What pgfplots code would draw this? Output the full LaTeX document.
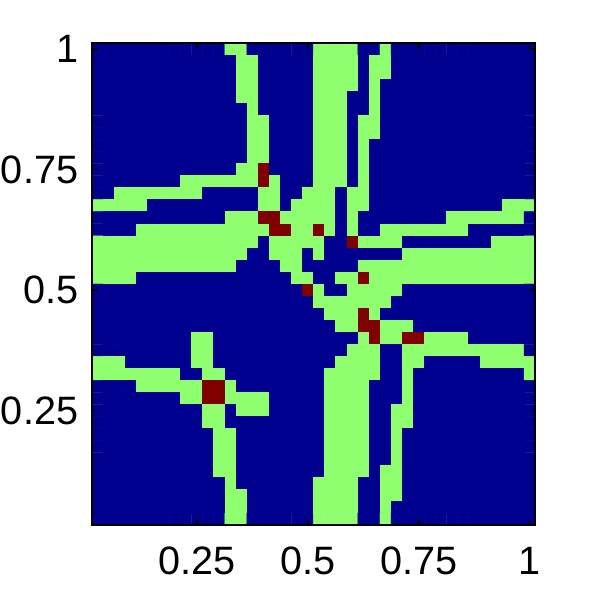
\documentclass[border=0pt]{standalone}
\usepackage{pgfplots}
\pgfplotsset{compat=1.18}
\usepackage{fontspec}
\setmainfont{Liberation Sans}
\begin{document}
\begin{tikzpicture}
\path[use as bounding box] (-91.7pt,-66pt) rectangle (499.3pt,525pt);
\begin{axis}[
  at={(0,0)}, anchor=south west,
  scale only axis, width=443.5pt, height=482pt,
  xmin=0.5, xmax=40.5, ymin=0.5, ymax=40.5,
  xtick={10,20,30,40}, xticklabels={0.25,0.5,0.75,1},
  ytick={10,20,30,40}, yticklabels={0.25,0.5,0.75,1},
  tick align=inside, major tick length=6pt,
  tick style={black, line width=1.5pt},
  axis line style={line width=2pt},
  ticklabel style={font=\fontsize{39.6pt}{44pt}\selectfont},
  xticklabel style={yshift=-18.4pt},
  yticklabel style={xshift=-10.1pt},
  colormap={jetthree}{rgb255(0)=(0,0,143); rgb255(1)=(143,255,112); rgb255(2)=(128,0,0)},
  point meta min=0, point meta max=2,
  axis on top,
]
\addplot[matrix plot*, mesh/cols=40, point meta=explicit] table[row sep=\\, header=false, x index=0, y index=1, meta index=2] {
1 40 0\\2 40 0\\3 40 0\\4 40 0\\5 40 0\\6 40 0\\7 40 0\\8 40 0\\9 40 0\\10 40 0\\11 40 0\\12 40 0\\13 40 1\\14 40 1\\15 40 0\\16 40 0\\17 40 0\\18 40 0\\19 40 0\\20 40 0\\21 40 1\\22 40 1\\23 40 1\\24 40 1\\25 40 0\\26 40 0\\27 40 1\\28 40 0\\29 40 0\\30 40 0\\31 40 0\\32 40 0\\33 40 0\\34 40 0\\35 40 0\\36 40 0\\37 40 0\\38 40 0\\39 40 0\\40 40 0\\
1 39 0\\2 39 0\\3 39 0\\4 39 0\\5 39 0\\6 39 0\\7 39 0\\8 39 0\\9 39 0\\10 39 0\\11 39 0\\12 39 0\\13 39 0\\14 39 1\\15 39 1\\16 39 0\\17 39 0\\18 39 0\\19 39 0\\20 39 0\\21 39 1\\22 39 1\\23 39 1\\24 39 1\\25 39 0\\26 39 1\\27 39 1\\28 39 0\\29 39 0\\30 39 0\\31 39 0\\32 39 0\\33 39 0\\34 39 0\\35 39 0\\36 39 0\\37 39 0\\38 39 0\\39 39 0\\40 39 0\\
1 38 0\\2 38 0\\3 38 0\\4 38 0\\5 38 0\\6 38 0\\7 38 0\\8 38 0\\9 38 0\\10 38 0\\11 38 0\\12 38 0\\13 38 0\\14 38 1\\15 38 1\\16 38 0\\17 38 0\\18 38 0\\19 38 0\\20 38 0\\21 38 1\\22 38 1\\23 38 1\\24 38 1\\25 38 0\\26 38 1\\27 38 1\\28 38 0\\29 38 0\\30 38 0\\31 38 0\\32 38 0\\33 38 0\\34 38 0\\35 38 0\\36 38 0\\37 38 0\\38 38 0\\39 38 0\\40 38 0\\
1 37 0\\2 37 0\\3 37 0\\4 37 0\\5 37 0\\6 37 0\\7 37 0\\8 37 0\\9 37 0\\10 37 0\\11 37 0\\12 37 0\\13 37 0\\14 37 1\\15 37 1\\16 37 0\\17 37 0\\18 37 0\\19 37 0\\20 37 0\\21 37 1\\22 37 1\\23 37 1\\24 37 1\\25 37 0\\26 37 1\\27 37 0\\28 37 0\\29 37 0\\30 37 0\\31 37 0\\32 37 0\\33 37 0\\34 37 0\\35 37 0\\36 37 0\\37 37 0\\38 37 0\\39 37 0\\40 37 0\\
1 36 0\\2 36 0\\3 36 0\\4 36 0\\5 36 0\\6 36 0\\7 36 0\\8 36 0\\9 36 0\\10 36 0\\11 36 0\\12 36 0\\13 36 0\\14 36 1\\15 36 1\\16 36 0\\17 36 0\\18 36 0\\19 36 0\\20 36 0\\21 36 1\\22 36 1\\23 36 1\\24 36 0\\25 36 0\\26 36 1\\27 36 0\\28 36 0\\29 36 0\\30 36 0\\31 36 0\\32 36 0\\33 36 0\\34 36 0\\35 36 0\\36 36 0\\37 36 0\\38 36 0\\39 36 0\\40 36 0\\
1 35 0\\2 35 0\\3 35 0\\4 35 0\\5 35 0\\6 35 0\\7 35 0\\8 35 0\\9 35 0\\10 35 0\\11 35 0\\12 35 0\\13 35 0\\14 35 0\\15 35 1\\16 35 0\\17 35 0\\18 35 0\\19 35 0\\20 35 0\\21 35 1\\22 35 1\\23 35 1\\24 35 0\\25 35 0\\26 35 1\\27 35 0\\28 35 0\\29 35 0\\30 35 0\\31 35 0\\32 35 0\\33 35 0\\34 35 0\\35 35 0\\36 35 0\\37 35 0\\38 35 0\\39 35 0\\40 35 0\\
1 34 0\\2 34 0\\3 34 0\\4 34 0\\5 34 0\\6 34 0\\7 34 0\\8 34 0\\9 34 0\\10 34 0\\11 34 0\\12 34 0\\13 34 0\\14 34 0\\15 34 1\\16 34 1\\17 34 0\\18 34 0\\19 34 0\\20 34 0\\21 34 1\\22 34 1\\23 34 1\\24 34 0\\25 34 1\\26 34 1\\27 34 0\\28 34 0\\29 34 0\\30 34 0\\31 34 0\\32 34 0\\33 34 0\\34 34 0\\35 34 0\\36 34 0\\37 34 0\\38 34 0\\39 34 0\\40 34 0\\
1 33 0\\2 33 0\\3 33 0\\4 33 0\\5 33 0\\6 33 0\\7 33 0\\8 33 0\\9 33 0\\10 33 0\\11 33 0\\12 33 0\\13 33 0\\14 33 0\\15 33 1\\16 33 1\\17 33 0\\18 33 0\\19 33 0\\20 33 0\\21 33 1\\22 33 1\\23 33 1\\24 33 0\\25 33 1\\26 33 1\\27 33 0\\28 33 0\\29 33 0\\30 33 0\\31 33 0\\32 33 0\\33 33 0\\34 33 0\\35 33 0\\36 33 0\\37 33 0\\38 33 0\\39 33 0\\40 33 0\\
1 32 0\\2 32 0\\3 32 0\\4 32 0\\5 32 0\\6 32 0\\7 32 0\\8 32 0\\9 32 0\\10 32 0\\11 32 0\\12 32 0\\13 32 0\\14 32 0\\15 32 1\\16 32 1\\17 32 0\\18 32 0\\19 32 0\\20 32 0\\21 32 1\\22 32 1\\23 32 1\\24 32 0\\25 32 1\\26 32 0\\27 32 0\\28 32 0\\29 32 0\\30 32 0\\31 32 0\\32 32 0\\33 32 0\\34 32 0\\35 32 0\\36 32 0\\37 32 0\\38 32 0\\39 32 0\\40 32 0\\
1 31 0\\2 31 0\\3 31 0\\4 31 0\\5 31 0\\6 31 0\\7 31 0\\8 31 0\\9 31 0\\10 31 0\\11 31 0\\12 31 0\\13 31 0\\14 31 0\\15 31 1\\16 31 1\\17 31 0\\18 31 0\\19 31 0\\20 31 0\\21 31 1\\22 31 1\\23 31 1\\24 31 0\\25 31 1\\26 31 0\\27 31 0\\28 31 0\\29 31 0\\30 31 0\\31 31 0\\32 31 0\\33 31 0\\34 31 0\\35 31 0\\36 31 0\\37 31 0\\38 31 0\\39 31 0\\40 31 0\\
1 30 0\\2 30 0\\3 30 0\\4 30 0\\5 30 0\\6 30 0\\7 30 0\\8 30 0\\9 30 0\\10 30 0\\11 30 0\\12 30 0\\13 30 0\\14 30 1\\15 30 1\\16 30 2\\17 30 0\\18 30 0\\19 30 0\\20 30 0\\21 30 1\\22 30 1\\23 30 1\\24 30 0\\25 30 1\\26 30 0\\27 30 0\\28 30 0\\29 30 0\\30 30 0\\31 30 0\\32 30 0\\33 30 0\\34 30 0\\35 30 0\\36 30 0\\37 30 0\\38 30 0\\39 30 0\\40 30 0\\
1 29 0\\2 29 0\\3 29 0\\4 29 0\\5 29 0\\6 29 0\\7 29 0\\8 29 0\\9 29 1\\10 29 1\\11 29 1\\12 29 1\\13 29 1\\14 29 1\\15 29 1\\16 29 2\\17 29 1\\18 29 0\\19 29 0\\20 29 0\\21 29 1\\22 29 1\\23 29 1\\24 29 0\\25 29 1\\26 29 0\\27 29 0\\28 29 0\\29 29 0\\30 29 0\\31 29 0\\32 29 0\\33 29 0\\34 29 0\\35 29 0\\36 29 0\\37 29 0\\38 29 0\\39 29 0\\40 29 0\\
1 28 0\\2 28 0\\3 28 1\\4 28 1\\5 28 1\\6 28 1\\7 28 1\\8 28 1\\9 28 1\\10 28 1\\11 28 0\\12 28 0\\13 28 0\\14 28 0\\15 28 0\\16 28 1\\17 28 1\\18 28 0\\19 28 0\\20 28 1\\21 28 1\\22 28 1\\23 28 0\\24 28 1\\25 28 1\\26 28 0\\27 28 0\\28 28 0\\29 28 0\\30 28 0\\31 28 0\\32 28 0\\33 28 0\\34 28 0\\35 28 0\\36 28 0\\37 28 0\\38 28 0\\39 28 0\\40 28 0\\
1 27 1\\2 27 1\\3 27 1\\4 27 1\\5 27 1\\6 27 0\\7 27 0\\8 27 0\\9 27 0\\10 27 0\\11 27 0\\12 27 0\\13 27 0\\14 27 0\\15 27 0\\16 27 1\\17 27 1\\18 27 0\\19 27 1\\20 27 1\\21 27 1\\22 27 1\\23 27 0\\24 27 1\\25 27 1\\26 27 0\\27 27 0\\28 27 0\\29 27 0\\30 27 0\\31 27 0\\32 27 0\\33 27 0\\34 27 0\\35 27 0\\36 27 0\\37 27 0\\38 27 1\\39 27 1\\40 27 1\\
1 26 0\\2 26 0\\3 26 0\\4 26 0\\5 26 0\\6 26 0\\7 26 0\\8 26 0\\9 26 0\\10 26 0\\11 26 0\\12 26 0\\13 26 1\\14 26 1\\15 26 1\\16 26 2\\17 26 2\\18 26 1\\19 26 1\\20 26 1\\21 26 1\\22 26 1\\23 26 0\\24 26 1\\25 26 0\\26 26 0\\27 26 0\\28 26 0\\29 26 0\\30 26 0\\31 26 0\\32 26 0\\33 26 1\\34 26 1\\35 26 1\\36 26 1\\37 26 1\\38 26 1\\39 26 1\\40 26 0\\
1 25 0\\2 25 0\\3 25 0\\4 25 0\\5 25 1\\6 25 1\\7 25 1\\8 25 1\\9 25 1\\10 25 1\\11 25 1\\12 25 1\\13 25 1\\14 25 1\\15 25 1\\16 25 1\\17 25 2\\18 25 2\\19 25 1\\20 25 1\\21 25 2\\22 25 1\\23 25 0\\24 25 1\\25 25 0\\26 25 0\\27 25 1\\28 25 1\\29 25 1\\30 25 1\\31 25 1\\32 25 1\\33 25 1\\34 25 1\\35 25 0\\36 25 0\\37 25 0\\38 25 0\\39 25 0\\40 25 0\\
1 24 1\\2 24 1\\3 24 1\\4 24 1\\5 24 1\\6 24 1\\7 24 1\\8 24 1\\9 24 1\\10 24 1\\11 24 1\\12 24 1\\13 24 1\\14 24 1\\15 24 1\\16 24 0\\17 24 1\\18 24 1\\19 24 1\\20 24 1\\21 24 1\\22 24 0\\23 24 0\\24 24 2\\25 24 1\\26 24 1\\27 24 1\\28 24 1\\29 24 0\\30 24 0\\31 24 0\\32 24 0\\33 24 0\\34 24 0\\35 24 0\\36 24 0\\37 24 1\\38 24 1\\39 24 1\\40 24 1\\
1 23 1\\2 23 1\\3 23 1\\4 23 1\\5 23 1\\6 23 1\\7 23 1\\8 23 1\\9 23 1\\10 23 1\\11 23 1\\12 23 1\\13 23 1\\14 23 1\\15 23 0\\16 23 0\\17 23 1\\18 23 1\\19 23 1\\20 23 0\\21 23 1\\22 23 0\\23 23 0\\24 23 0\\25 23 0\\26 23 0\\27 23 0\\28 23 0\\29 23 1\\30 23 1\\31 23 1\\32 23 1\\33 23 1\\34 23 1\\35 23 1\\36 23 1\\37 23 1\\38 23 1\\39 23 1\\40 23 1\\
1 22 1\\2 22 1\\3 22 1\\4 22 1\\5 22 1\\6 22 1\\7 22 1\\8 22 1\\9 22 1\\10 22 1\\11 22 1\\12 22 1\\13 22 1\\14 22 0\\15 22 0\\16 22 0\\17 22 0\\18 22 1\\19 22 1\\20 22 0\\21 22 0\\22 22 0\\23 22 0\\24 22 0\\25 22 1\\26 22 1\\27 22 1\\28 22 1\\29 22 1\\30 22 1\\31 22 1\\32 22 1\\33 22 1\\34 22 1\\35 22 1\\36 22 1\\37 22 1\\38 22 1\\39 22 1\\40 22 1\\
1 21 1\\2 21 1\\3 21 1\\4 21 1\\5 21 0\\6 21 0\\7 21 0\\8 21 0\\9 21 0\\10 21 0\\11 21 0\\12 21 0\\13 21 0\\14 21 0\\15 21 0\\16 21 0\\17 21 0\\18 21 0\\19 21 1\\20 21 1\\21 21 0\\22 21 0\\23 21 1\\24 21 1\\25 21 2\\26 21 1\\27 21 1\\28 21 1\\29 21 1\\30 21 1\\31 21 1\\32 21 1\\33 21 1\\34 21 1\\35 21 1\\36 21 1\\37 21 1\\38 21 1\\39 21 1\\40 21 1\\
1 20 0\\2 20 0\\3 20 0\\4 20 0\\5 20 0\\6 20 0\\7 20 0\\8 20 0\\9 20 0\\10 20 0\\11 20 0\\12 20 0\\13 20 0\\14 20 0\\15 20 0\\16 20 0\\17 20 0\\18 20 0\\19 20 0\\20 20 2\\21 20 1\\22 20 0\\23 20 0\\24 20 1\\25 20 1\\26 20 1\\27 20 1\\28 20 1\\29 20 0\\30 20 0\\31 20 0\\32 20 0\\33 20 0\\34 20 0\\35 20 0\\36 20 0\\37 20 0\\38 20 0\\39 20 0\\40 20 0\\
1 19 0\\2 19 0\\3 19 0\\4 19 0\\5 19 0\\6 19 0\\7 19 0\\8 19 0\\9 19 0\\10 19 0\\11 19 0\\12 19 0\\13 19 0\\14 19 0\\15 19 0\\16 19 0\\17 19 0\\18 19 0\\19 19 0\\20 19 0\\21 19 1\\22 19 1\\23 19 1\\24 19 1\\25 19 1\\26 19 1\\27 19 1\\28 19 0\\29 19 0\\30 19 0\\31 19 0\\32 19 0\\33 19 0\\34 19 0\\35 19 0\\36 19 0\\37 19 0\\38 19 0\\39 19 0\\40 19 0\\
1 18 0\\2 18 0\\3 18 0\\4 18 0\\5 18 0\\6 18 0\\7 18 0\\8 18 0\\9 18 0\\10 18 0\\11 18 0\\12 18 0\\13 18 0\\14 18 0\\15 18 0\\16 18 0\\17 18 0\\18 18 0\\19 18 0\\20 18 0\\21 18 0\\22 18 1\\23 18 1\\24 18 1\\25 18 2\\26 18 1\\27 18 0\\28 18 0\\29 18 0\\30 18 0\\31 18 0\\32 18 0\\33 18 0\\34 18 0\\35 18 0\\36 18 0\\37 18 0\\38 18 0\\39 18 0\\40 18 0\\
1 17 0\\2 17 0\\3 17 0\\4 17 0\\5 17 0\\6 17 0\\7 17 0\\8 17 0\\9 17 0\\10 17 0\\11 17 0\\12 17 0\\13 17 0\\14 17 0\\15 17 0\\16 17 0\\17 17 0\\18 17 0\\19 17 0\\20 17 0\\21 17 0\\22 17 0\\23 17 1\\24 17 1\\25 17 2\\26 17 2\\27 17 1\\28 17 1\\29 17 1\\30 17 0\\31 17 0\\32 17 0\\33 17 0\\34 17 0\\35 17 0\\36 17 0\\37 17 0\\38 17 0\\39 17 0\\40 17 0\\
1 16 0\\2 16 0\\3 16 0\\4 16 0\\5 16 0\\6 16 0\\7 16 0\\8 16 0\\9 16 0\\10 16 1\\11 16 1\\12 16 0\\13 16 0\\14 16 0\\15 16 0\\16 16 0\\17 16 0\\18 16 0\\19 16 0\\20 16 0\\21 16 0\\22 16 0\\23 16 0\\24 16 0\\25 16 1\\26 16 2\\27 16 1\\28 16 1\\29 16 2\\30 16 2\\31 16 1\\32 16 1\\33 16 1\\34 16 1\\35 16 0\\36 16 0\\37 16 0\\38 16 0\\39 16 0\\40 16 0\\
1 15 0\\2 15 0\\3 15 0\\4 15 0\\5 15 0\\6 15 0\\7 15 0\\8 15 0\\9 15 0\\10 15 1\\11 15 1\\12 15 0\\13 15 0\\14 15 0\\15 15 0\\16 15 0\\17 15 0\\18 15 0\\19 15 0\\20 15 0\\21 15 0\\22 15 0\\23 15 0\\24 15 1\\25 15 1\\26 15 1\\27 15 0\\28 15 0\\29 15 1\\30 15 1\\31 15 1\\32 15 1\\33 15 1\\34 15 1\\35 15 1\\36 15 1\\37 15 1\\38 15 1\\39 15 1\\40 15 0\\
1 14 1\\2 14 1\\3 14 1\\4 14 0\\5 14 0\\6 14 0\\7 14 0\\8 14 0\\9 14 0\\10 14 1\\11 14 1\\12 14 0\\13 14 0\\14 14 0\\15 14 0\\16 14 0\\17 14 0\\18 14 0\\19 14 0\\20 14 0\\21 14 0\\22 14 0\\23 14 1\\24 14 1\\25 14 1\\26 14 1\\27 14 0\\28 14 0\\29 14 1\\30 14 1\\31 14 0\\32 14 0\\33 14 0\\34 14 0\\35 14 0\\36 14 1\\37 14 1\\38 14 1\\39 14 1\\40 14 1\\
1 13 1\\2 13 1\\3 13 1\\4 13 1\\5 13 1\\6 13 1\\7 13 1\\8 13 1\\9 13 0\\10 13 0\\11 13 1\\12 13 1\\13 13 0\\14 13 0\\15 13 0\\16 13 0\\17 13 0\\18 13 0\\19 13 0\\20 13 0\\21 13 0\\22 13 1\\23 13 1\\24 13 1\\25 13 1\\26 13 1\\27 13 0\\28 13 0\\29 13 1\\30 13 0\\31 13 0\\32 13 0\\33 13 0\\34 13 0\\35 13 0\\36 13 0\\37 13 0\\38 13 0\\39 13 0\\40 13 1\\
1 12 0\\2 12 0\\3 12 0\\4 12 0\\5 12 1\\6 12 1\\7 12 1\\8 12 1\\9 12 1\\10 12 1\\11 12 2\\12 12 2\\13 12 1\\14 12 0\\15 12 0\\16 12 0\\17 12 0\\18 12 0\\19 12 0\\20 12 0\\21 12 0\\22 12 1\\23 12 1\\24 12 1\\25 12 1\\26 12 0\\27 12 0\\28 12 0\\29 12 1\\30 12 0\\31 12 0\\32 12 0\\33 12 0\\34 12 0\\35 12 0\\36 12 0\\37 12 0\\38 12 0\\39 12 0\\40 12 0\\
1 11 0\\2 11 0\\3 11 0\\4 11 0\\5 11 0\\6 11 0\\7 11 0\\8 11 0\\9 11 1\\10 11 1\\11 11 2\\12 11 2\\13 11 1\\14 11 1\\15 11 1\\16 11 1\\17 11 0\\18 11 0\\19 11 0\\20 11 0\\21 11 0\\22 11 1\\23 11 1\\24 11 1\\25 11 1\\26 11 0\\27 11 0\\28 11 0\\29 11 1\\30 11 0\\31 11 0\\32 11 0\\33 11 0\\34 11 0\\35 11 0\\36 11 0\\37 11 0\\38 11 0\\39 11 0\\40 11 0\\
1 10 0\\2 10 0\\3 10 0\\4 10 0\\5 10 0\\6 10 0\\7 10 0\\8 10 0\\9 10 0\\10 10 0\\11 10 1\\12 10 1\\13 10 0\\14 10 1\\15 10 1\\16 10 1\\17 10 0\\18 10 0\\19 10 0\\20 10 0\\21 10 0\\22 10 1\\23 10 1\\24 10 1\\25 10 1\\26 10 0\\27 10 0\\28 10 1\\29 10 1\\30 10 0\\31 10 0\\32 10 0\\33 10 0\\34 10 0\\35 10 0\\36 10 0\\37 10 0\\38 10 0\\39 10 0\\40 10 0\\
1 9 0\\2 9 0\\3 9 0\\4 9 0\\5 9 0\\6 9 0\\7 9 0\\8 9 0\\9 9 0\\10 9 0\\11 9 1\\12 9 1\\13 9 0\\14 9 0\\15 9 0\\16 9 0\\17 9 0\\18 9 0\\19 9 0\\20 9 0\\21 9 0\\22 9 1\\23 9 1\\24 9 1\\25 9 1\\26 9 0\\27 9 0\\28 9 1\\29 9 1\\30 9 0\\31 9 0\\32 9 0\\33 9 0\\34 9 0\\35 9 0\\36 9 0\\37 9 0\\38 9 0\\39 9 0\\40 9 0\\
1 8 0\\2 8 0\\3 8 0\\4 8 0\\5 8 0\\6 8 0\\7 8 0\\8 8 0\\9 8 0\\10 8 0\\11 8 0\\12 8 1\\13 8 1\\14 8 0\\15 8 0\\16 8 0\\17 8 0\\18 8 0\\19 8 0\\20 8 0\\21 8 0\\22 8 1\\23 8 1\\24 8 1\\25 8 1\\26 8 0\\27 8 0\\28 8 1\\29 8 0\\30 8 0\\31 8 0\\32 8 0\\33 8 0\\34 8 0\\35 8 0\\36 8 0\\37 8 0\\38 8 0\\39 8 0\\40 8 0\\
1 7 0\\2 7 0\\3 7 0\\4 7 0\\5 7 0\\6 7 0\\7 7 0\\8 7 0\\9 7 0\\10 7 0\\11 7 0\\12 7 1\\13 7 1\\14 7 0\\15 7 0\\16 7 0\\17 7 0\\18 7 0\\19 7 0\\20 7 0\\21 7 0\\22 7 1\\23 7 1\\24 7 1\\25 7 1\\26 7 0\\27 7 0\\28 7 1\\29 7 0\\30 7 0\\31 7 0\\32 7 0\\33 7 0\\34 7 0\\35 7 0\\36 7 0\\37 7 0\\38 7 0\\39 7 0\\40 7 0\\
1 6 0\\2 6 0\\3 6 0\\4 6 0\\5 6 0\\6 6 0\\7 6 0\\8 6 0\\9 6 0\\10 6 0\\11 6 0\\12 6 1\\13 6 1\\14 6 0\\15 6 0\\16 6 0\\17 6 0\\18 6 0\\19 6 0\\20 6 0\\21 6 0\\22 6 1\\23 6 1\\24 6 1\\25 6 1\\26 6 0\\27 6 0\\28 6 1\\29 6 0\\30 6 0\\31 6 0\\32 6 0\\33 6 0\\34 6 0\\35 6 0\\36 6 0\\37 6 0\\38 6 0\\39 6 0\\40 6 0\\
1 5 0\\2 5 0\\3 5 0\\4 5 0\\5 5 0\\6 5 0\\7 5 0\\8 5 0\\9 5 0\\10 5 0\\11 5 0\\12 5 1\\13 5 1\\14 5 0\\15 5 0\\16 5 0\\17 5 0\\18 5 0\\19 5 0\\20 5 0\\21 5 0\\22 5 1\\23 5 1\\24 5 1\\25 5 1\\26 5 0\\27 5 1\\28 5 1\\29 5 0\\30 5 0\\31 5 0\\32 5 0\\33 5 0\\34 5 0\\35 5 0\\36 5 0\\37 5 0\\38 5 0\\39 5 0\\40 5 0\\
1 4 0\\2 4 0\\3 4 0\\4 4 0\\5 4 0\\6 4 0\\7 4 0\\8 4 0\\9 4 0\\10 4 0\\11 4 0\\12 4 0\\13 4 1\\14 4 0\\15 4 0\\16 4 0\\17 4 0\\18 4 0\\19 4 0\\20 4 0\\21 4 1\\22 4 1\\23 4 1\\24 4 1\\25 4 0\\26 4 0\\27 4 1\\28 4 1\\29 4 0\\30 4 0\\31 4 0\\32 4 0\\33 4 0\\34 4 0\\35 4 0\\36 4 0\\37 4 0\\38 4 0\\39 4 0\\40 4 0\\
1 3 0\\2 3 0\\3 3 0\\4 3 0\\5 3 0\\6 3 0\\7 3 0\\8 3 0\\9 3 0\\10 3 0\\11 3 0\\12 3 0\\13 3 1\\14 3 1\\15 3 0\\16 3 0\\17 3 0\\18 3 0\\19 3 0\\20 3 0\\21 3 1\\22 3 1\\23 3 1\\24 3 1\\25 3 0\\26 3 0\\27 3 1\\28 3 1\\29 3 0\\30 3 0\\31 3 0\\32 3 0\\33 3 0\\34 3 0\\35 3 0\\36 3 0\\37 3 0\\38 3 0\\39 3 0\\40 3 0\\
1 2 0\\2 2 0\\3 2 0\\4 2 0\\5 2 0\\6 2 0\\7 2 0\\8 2 0\\9 2 0\\10 2 0\\11 2 0\\12 2 0\\13 2 1\\14 2 1\\15 2 0\\16 2 0\\17 2 0\\18 2 0\\19 2 0\\20 2 0\\21 2 1\\22 2 1\\23 2 1\\24 2 1\\25 2 0\\26 2 0\\27 2 1\\28 2 0\\29 2 0\\30 2 0\\31 2 0\\32 2 0\\33 2 0\\34 2 0\\35 2 0\\36 2 0\\37 2 0\\38 2 0\\39 2 0\\40 2 0\\
1 1 0\\2 1 0\\3 1 0\\4 1 0\\5 1 0\\6 1 0\\7 1 0\\8 1 0\\9 1 0\\10 1 0\\11 1 0\\12 1 0\\13 1 1\\14 1 1\\15 1 0\\16 1 0\\17 1 0\\18 1 0\\19 1 0\\20 1 0\\21 1 1\\22 1 1\\23 1 1\\24 1 1\\25 1 0\\26 1 0\\27 1 1\\28 1 0\\29 1 0\\30 1 0\\31 1 0\\32 1 0\\33 1 0\\34 1 0\\35 1 0\\36 1 0\\37 1 0\\38 1 0\\39 1 0\\40 1 0\\
};
\end{axis}
\end{tikzpicture}
\end{document}
